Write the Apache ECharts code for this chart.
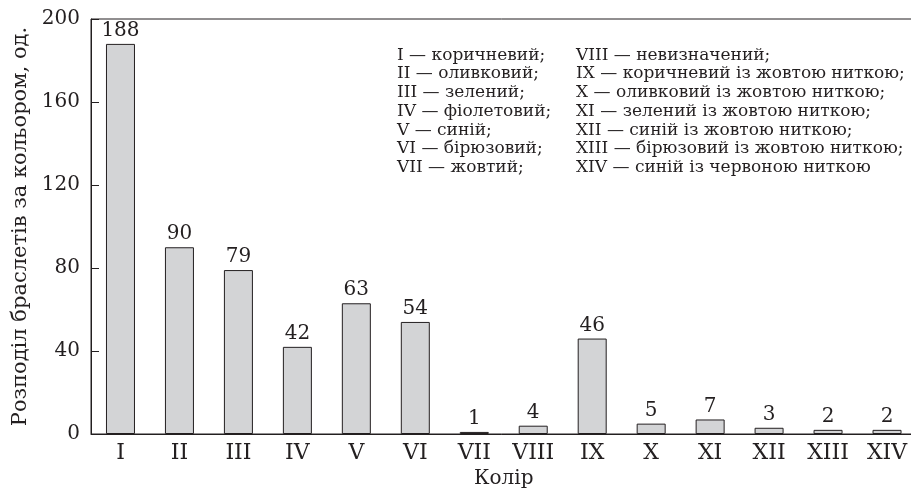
<!DOCTYPE html>
<html>
<head>
<meta charset="utf-8">
<script src="https://cdn.jsdelivr.net/npm/echarts@6/dist/echarts.min.js"></script>
<style>
  html, body { margin: 0; padding: 0; background: #fff; }
  #chart { width: 911px; height: 488px; }
</style>
</head>
<body>
<div id="chart"></div>
<script>
// категорії (римські номери кольорів) та кількість браслетів
let categories = ['I', 'II', 'III', 'IV', 'V', 'VI', 'VII', 'VIII', 'IX', 'X', 'XI', 'XII', 'XIII', 'XIV'];
let counts = [188, 90, 79, 42, 63, 54, 1, 4, 46, 5, 7, 3, 2, 2];

// розшифровка кольорів
let colorNames = [
    'коричневий;',
    'оливковий;',
    'зелений;',
    'фіолетовий;',
    'синій;',
    'бірюзовий;',
    'жовтий;',
    'невизначений;',
    'коричневий із жовтою ниткою;',
    'оливковий із жовтою ниткою;',
    'зелений із жовтою ниткою;',
    'синій із жовтою ниткою;',
    'бірюзовий із жовтою ниткою;',
    'синій із червоною ниткою'
];

let yTicks = { min: 0, max: 200, interval: 40 };

const FONT = '"DejaVu Serif", "Liberation Serif", serif';
const INK = '#231f20';

let legendLines = categories.map((c, i) => c + ' \u2014 ' + colorNames[i]);
let leftCol = legendLines.slice(0, 7).join('\n');
let rightCol = legendLines.slice(7).join('\n');

let chart = echarts.init(document.getElementById('chart'), null, { renderer: 'canvas' });

let options = {
    backgroundColor: '#fff',
    animation: false,
    textStyle: { fontFamily: FONT, color: INK },
    grid: {
        left: 91,
        top: 19,
        width: 825.5,
        height: 415,
        outerBoundsMode: 'none',
        containLabel: false,
        show: true,
        borderColor: INK,
        borderWidth: 1,
        backgroundColor: 'transparent'
    },
    xAxis: {
        type: 'category',
        data: categories,
        name: 'Колір',
        nameLocation: 'middle',
        nameGap: 33,
        nameTextStyle: { fontFamily: FONT, fontSize: 20, color: INK },
        axisLine: { show: true, lineStyle: { color: INK, width: 1 } },
        axisTick: { show: false },
        axisLabel: { fontFamily: FONT, fontSize: 22, color: INK, margin: 8, interval: 0 },
        splitLine: { show: false }
    },
    yAxis: {
        type: 'value',
        min: yTicks.min,
        max: yTicks.max,
        interval: yTicks.interval,
        name: 'Розподіл браслетів за кольором, од.',
        nameLocation: 'middle',
        nameGap: 58,
        nameRotate: 90,
        nameTextStyle: { fontFamily: FONT, fontSize: 21, color: INK },
        axisLine: { show: true, lineStyle: { color: INK, width: 1 } },
        axisTick: { show: true, inside: true, length: 8, lineStyle: { color: INK } },
        axisLabel: { fontFamily: FONT, fontSize: 20, color: INK, margin: 11 },
        splitLine: { show: false }
    },
    series: [{
        type: 'bar',
        data: counts,
        barWidth: 29,
        itemStyle: { color: '#d3d4d6', borderColor: INK, borderWidth: 1 },
        label: {
            show: true,
            position: 'top',
            distance: 3,
            fontFamily: FONT,
            fontSize: 20,
            color: INK
        }
    }],
    graphic: [
        {
            type: 'text',
            left: 397,
            top: 46,
            style: { text: leftCol, font: '17px ' + FONT, fill: INK, lineHeight: 18.7 }
        },
        {
            type: 'text',
            left: 576,
            top: 46,
            style: { text: rightCol, font: '17px ' + FONT, fill: INK, lineHeight: 18.7 }
        }
    ]
};

chart.setOption(options);
</script>
</body>
</html>
